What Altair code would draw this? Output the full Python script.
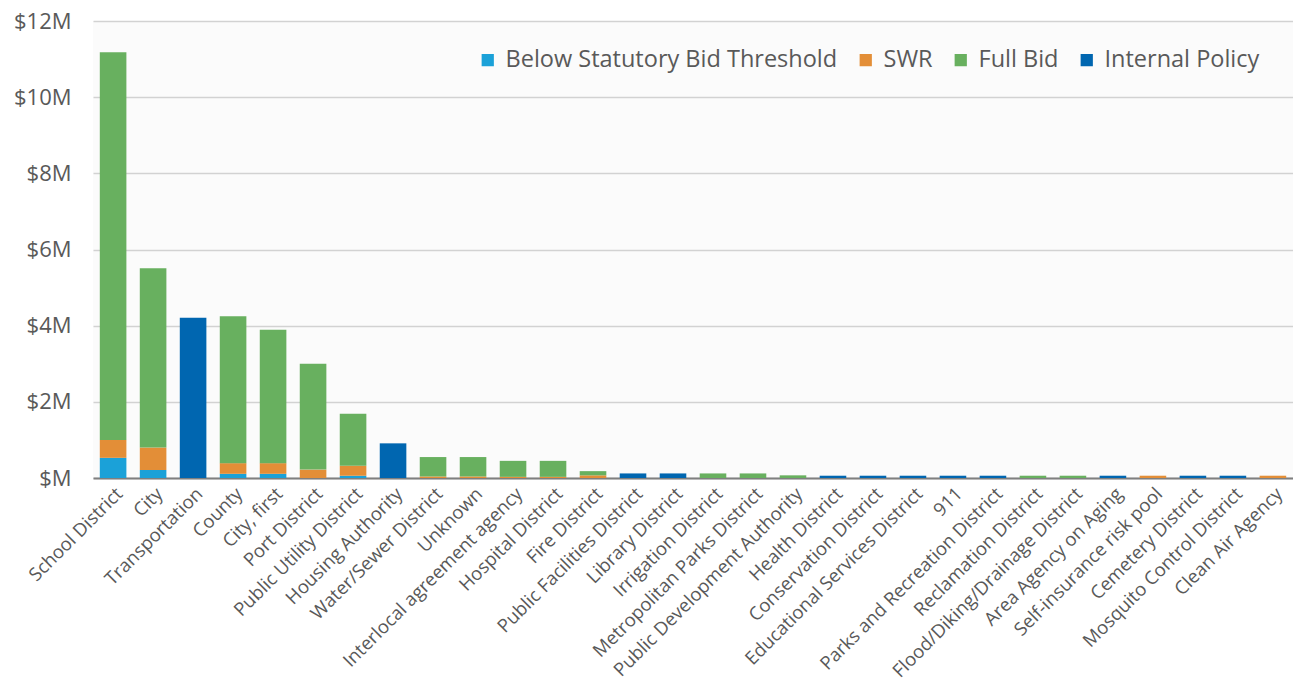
import altair as alt
import pandas as pd

categories = [
    "School District", "City", "Transportation", "County", "City, first",
    "Port District", "Public Utility District", "Housing Authority",
    "Water/Sewer District", "Unknown", "Interlocal agreement agency",
    "Hospital District", "Fire District", "Public Facilities District",
    "Library District", "Irrigation District", "Metropolitan Parks District",
    "Public Development Authority", "Health District", "Conservation District",
    "Educational Services District", "911", "Parks and Recreation District",
    "Reclamation District", "Flood/Diking/Drainage District",
    "Area Agency on Aging", "Self-insurance risk pool", "Cemetery District",
    "Mosquito Control District", "Clean Air Agency",
]

# values in $ millions
below = [0.53, 0.21, 0, 0.11, 0.11, 0, 0.06, 0, 0, 0, 0, 0, 0, 0, 0,
         0, 0, 0, 0, 0, 0, 0, 0, 0, 0, 0, 0, 0, 0, 0]
swr = [0.47, 0.59, 0, 0.28, 0.28, 0.22, 0.26, 0, 0.04, 0.04, 0.03, 0.03, 0.07, 0, 0,
       0, 0, 0, 0, 0, 0, 0, 0, 0, 0, 0, 0.06, 0, 0, 0.06]
full = [10.18, 4.71, 0, 3.86, 3.50, 2.78, 1.37, 0, 0.51, 0.51, 0.42, 0.42, 0.11, 0, 0,
        0.12, 0.12, 0.07, 0, 0, 0, 0, 0, 0.06, 0.06, 0, 0, 0, 0, 0]
internal = [0, 0, 4.21, 0, 0, 0, 0, 0.91, 0, 0, 0, 0, 0, 0.12, 0.12,
            0, 0, 0, 0.06, 0.06, 0.06, 0.06, 0.06, 0, 0, 0.06, 0, 0.06, 0.06, 0]

types = ["Below Statutory Bid Threshold", "SWR", "Full Bid", "Internal Policy"]
colors = ["#1BA1D8", "#E38E37", "#68B05F", "#0066B0"]

rows = []
for series_idx, (name, vals) in enumerate(zip(types, [below, swr, full, internal])):
    for cat, v in zip(categories, vals):
        if v > 0:
            rows.append({"category": cat, "type": name, "value": v, "order": series_idx})
df = pd.DataFrame(rows)

FONT = "Open Sans"
TXT = "#595959"

chart = alt.Chart(df).mark_bar().encode(
    x=alt.X(
        "category:N",
        sort=categories,
        scale=alt.Scale(paddingInner=0.335, paddingOuter=0.17),
        axis=alt.Axis(
            title=None, labelAngle=-45, labelFontSize=18.5, labelColor=TXT,
            labelFont=FONT, ticks=False, domainColor="#7f7f7f", domainWidth=2,
            labelPadding=6, labelOverlap=False, labelLimit=400,
        ),
    ),
    y=alt.Y(
        "value:Q",
        stack="zero",
        scale=alt.Scale(domain=[0, 12], nice=False),
        axis=alt.Axis(
            title=None, values=[0, 2, 4, 6, 8, 10, 12],
            labelExpr="'$' + (datum.value == 0 ? '' : datum.value) + 'M'",
            domain=False, ticks=False, gridColor="#d2d2d2", gridWidth=1.5,
            labelFontSize=22, labelFont=FONT, labelColor=TXT, labelPadding=22,
        ),
    ),
    color=alt.Color(
        "type:N",
        scale=alt.Scale(domain=types, range=colors),
        legend=alt.Legend(
            title=None, orient="none", legendX=383, legendY=27,
            direction="horizontal", columns=4, columnPadding=16,
            symbolType="square", symbolSize=150, symbolStrokeWidth=0,
            labelFontSize=23.5, labelFont=FONT, labelColor=TXT, labelOffset=6,
            labelLimit=500,
        ),
    ),
    order=alt.Order("order:Q"),
).properties(
    width=1200,
    height=457,
    autosize=alt.AutoSizeParams(type="none"),
    padding={"left": 85, "top": 13, "right": 0, "bottom": 207},
).configure_view(
    fill="#fbfbfb", stroke=None
)

chart.save("out.html", embed_options={"renderer": "svg", "actions": False})
